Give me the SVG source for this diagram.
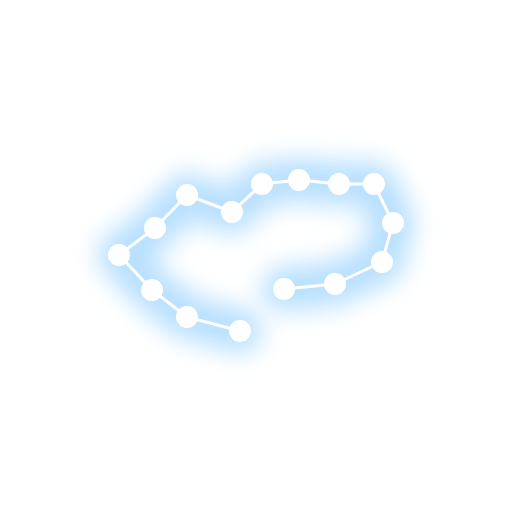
<svg xmlns="http://www.w3.org/2000/svg" width="512" height="512" viewBox="0 0 512 512">
<defs>
<filter id="glow" x="-50%" y="-50%" width="200%" height="200%"><feGaussianBlur stdDeviation="12"/></filter>
<style>
.node{fill:#ffffff}
.link{stroke:#ffffff;stroke-width:3;fill:none;stroke-linecap:round;stroke-linejoin:round}
.halo{stroke:#b8e0ff;stroke-width:44;fill:none;stroke-linecap:round;stroke-linejoin:round}
</style>
</defs>
<rect width="512" height="512" fill="#ffffff"/>
<g id="glow-layer" filter="url(#glow)">
<polyline class="halo" points="240,331 187,317 152,290 119,255 155,228 187,195 232,212 262,184 299,180 339,184 374,184 393,223 382,262 335,284 284,289"/>
</g>
<g id="connectors">
<polyline class="link" points="240,331 187,317 152,290 119,255 155,228 187,195 232,212 262,184 299,180 339,184 374,184 393,223 382,262 335,284 284,289"/>
</g>
<g id="n1"><circle class="node" cx="240" cy="331" r="11"/></g>
<g id="n2"><circle class="node" cx="187" cy="317" r="11"/></g>
<g id="n3"><circle class="node" cx="152" cy="290" r="11"/></g>
<g id="n4"><circle class="node" cx="119" cy="255" r="11"/></g>
<g id="n5"><circle class="node" cx="155" cy="228" r="11"/></g>
<g id="n6"><circle class="node" cx="187" cy="195" r="11"/></g>
<g id="n7"><circle class="node" cx="232" cy="212" r="11"/></g>
<g id="n8"><circle class="node" cx="262" cy="184" r="11"/></g>
<g id="n9"><circle class="node" cx="299" cy="180" r="11"/></g>
<g id="n10"><circle class="node" cx="339" cy="184" r="11"/></g>
<g id="n11"><circle class="node" cx="374" cy="184" r="11"/></g>
<g id="n12"><circle class="node" cx="393" cy="223" r="11"/></g>
<g id="n13"><circle class="node" cx="382" cy="262" r="11"/></g>
<g id="n14"><circle class="node" cx="335" cy="284" r="11"/></g>
<g id="n15"><circle class="node" cx="284" cy="289" r="11"/></g>
</svg>
